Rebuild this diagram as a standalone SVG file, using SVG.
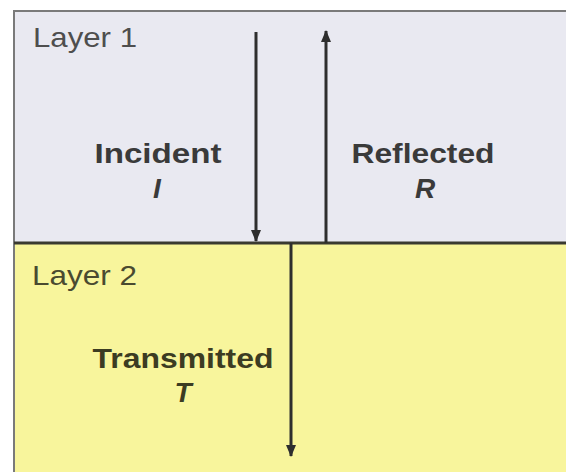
<svg xmlns="http://www.w3.org/2000/svg" width="566" height="472" viewBox="0 0 566 472">
  <style>
    .layer-label { font-family: "Liberation Sans", Arial, sans-serif; font-size: 28px; fill: #4e4e4e; }
    .label { font-family: "Liberation Sans", Arial, sans-serif; font-size: 28px; font-weight: bold; fill: #3a3a3a; text-anchor: middle; }
    .sym { font-style: italic; }
    .lower { fill: #3c3c22; }
    .ray { stroke: #2e2e2e; stroke-width: 3; fill: none; }
  </style>
  <defs>
    <marker id="head" viewBox="0 0 12 10" refX="11" refY="5" markerWidth="12" markerHeight="10" markerUnits="userSpaceOnUse" orient="auto">
      <path d="M0,0 L12,5 L0,10 Z" fill="#2e2e2e"/>
    </marker>
  </defs>
  <rect width="566" height="472" fill="#ffffff"/>

  <g id="layer1">
    <rect x="14" y="11" width="560" height="232" fill="#e9e9f1" stroke="#7a7a7a" stroke-width="2"/>
    <text class="layer-label" x="33" y="47" textLength="104" lengthAdjust="spacingAndGlyphs">Layer 1</text>
  </g>
  <g id="layer2">
    <rect x="14" y="243" width="560" height="240" fill="#f8f59c" stroke="#7a7a7a" stroke-width="2"/>
    <line x1="14" y1="243" x2="566" y2="243" stroke="#3a3a30" stroke-width="3"/>
    <text class="layer-label" x="32" y="285" textLength="105" lengthAdjust="spacingAndGlyphs" style="fill:#4a4a30">Layer 2</text>
  </g>

  <g id="incident">
    <text class="label" x="158" y="163" textLength="127" lengthAdjust="spacingAndGlyphs">Incident</text>
    <text class="label sym" x="157" y="198">I</text>
  </g>
  <g id="reflected">
    <text class="label" x="423" y="163" textLength="143" lengthAdjust="spacingAndGlyphs">Reflected</text>
    <text class="label sym" x="425" y="198">R</text>
  </g>
  <g id="transmitted">
    <text class="label lower" x="183" y="368" textLength="181" lengthAdjust="spacingAndGlyphs">Transmitted</text>
    <text class="label sym lower" x="183" y="402">T</text>
  </g>

  <g id="connectors">
    <line class="ray" x1="256" y1="32" x2="256" y2="241" marker-end="url(#head)"/>
    <line class="ray" x1="326" y1="243" x2="326" y2="31" marker-end="url(#head)"/>
    <line class="ray" x1="291" y1="243" x2="291" y2="456" marker-end="url(#head)"/>
  </g>
</svg>
